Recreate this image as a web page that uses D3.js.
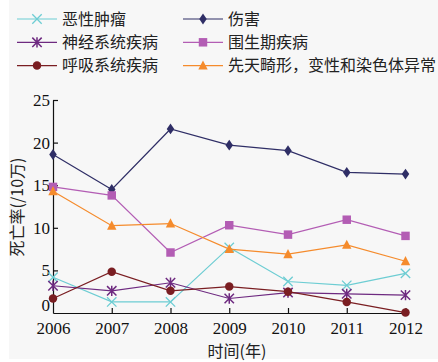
<!DOCTYPE html>
<html>
<head>
<meta charset="utf-8">
<script src="https://cdn.jsdelivr.net/npm/d3@7"></script>
<style>
  body { margin: 0; background: #fff; }
  text { font-family: "Liberation Serif", serif; }
  .cjk { font-family: "Noto Sans CJK SC", sans-serif; }
</style>
</head>
<body>
<svg id="chart" width="438" height="362"></svg>
<script>
// data
const years = [2006, 2007, 2008, 2009, 2010, 2011, 2012];
const tumor   = [4.2, 1.3, 1.3, 7.7, 3.7, 3.25, 4.65];
const injury  = [18.6, 14.5, 21.6, 19.7, 19.05, 16.5, 16.3];
const nervous = [3.2, 2.6, 3.55, 1.7, 2.4, 2.25, 2.1];
const perinatal = [14.8, 13.8, 7.1, 10.3, 9.2, 10.95, 9.05];
const respiratory = [1.7, 4.85, 2.6, 3.1, 2.5, 1.3, 0.05];
const congenital = [14.3, 10.25, 10.5, 7.5, 6.9, 8.0, 6.07];
const yTicks = [0, 5, 10, 15, 20, 25];

const series = [
  {name: "恶性肿瘤", values: tumor, color: "#6dcdd3", mark: "cross"},
  {name: "伤害", values: injury, color: "#2f2e66", mark: "diamond"},
  {name: "神经系统疾病", values: nervous, color: "#6e2a80", mark: "asterisk"},
  {name: "围生期疾病", values: perinatal, color: "#b35db4", mark: "square"},
  {name: "呼吸系统疾病", values: respiratory, color: "#7a1e22", mark: "circle"},
  {name: "先天畸形，变性和染色体异常", values: congenital, color: "#f58b2c", mark: "triangle"}
];

const svg = d3.select("#chart");
svg.append("rect").attr("x", 9).attr("y", 0).attr("width", 429).attr("height", 359)
    .attr("fill", "#f7f7f7");

const x = d3.scalePoint().domain(years).range([53, 405.5]);
const y = d3.scaleLinear().domain([0, 25]).range([313, 100]);

// axes (ticks point inward)
const gx = svg.append("g").attr("transform", `translate(0,${y(0)})`)
    .call(d3.axisBottom(x).tickSizeInner(-5).tickSizeOuter(0).tickPadding(9));
const gy = svg.append("g").attr("transform", `translate(${x(2006)},0)`)
    .call(d3.axisLeft(y).tickValues(yTicks).tickSizeInner(-5).tickSizeOuter(0).tickPadding(3));
[gx, gy].forEach(g => {
  g.attr("font-family", "'Liberation Serif', serif").attr("font-size", 17);
  g.select(".domain").attr("stroke", "#111").attr("stroke-width", 1.2);
  g.selectAll(".tick line").attr("stroke", "#111").attr("stroke-width", 1.2);
  g.selectAll(".tick text").attr("fill", "#111");
});
gy.selectAll(".tick").filter(d => d === 0).select("line").remove();
// the zero label sits a little above the corner so it clears 2006
gy.selectAll(".tick").filter(d => d === 0).select("text").attr("y", -8);
gx.selectAll(".tick").filter(d => d === 2006).select("line").remove();

// marker drawing
function drawMark(g, type, color, s) {
  if (type === "cross") {
    g.append("path").attr("d", `M${-s},${-s}L${s},${s}M${-s},${s}L${s},${-s}`)
        .attr("stroke", color).attr("stroke-width", 1.3).attr("fill", "none");
  } else if (type === "asterisk") {
    g.append("path").attr("d", `M${-s},${-s}L${s},${s}M${-s},${s}L${s},${-s}M0,${-s*1.1}L0,${s*1.1}`)
        .attr("stroke", color).attr("stroke-width", 1.5).attr("fill", "none");
  } else if (type === "diamond") {
    g.append("path").attr("d", `M0,${-s*1.15}L${s*0.8},0L0,${s*1.15}L${-s*0.8},0Z`).attr("fill", color);
  } else if (type === "square") {
    g.append("rect").attr("x", -s*0.9).attr("y", -s*0.9)
        .attr("width", s*1.8).attr("height", s*1.8).attr("fill", color);
  } else if (type === "circle") {
    g.append("circle").attr("r", s*0.9).attr("fill", color);
  } else if (type === "triangle") {
    g.append("path").attr("d", `M0,${-s*1.1}L${s},${s*0.85}L${-s},${s*0.85}Z`).attr("fill", color);
  }
}

const line = d3.line().x((d, i) => x(years[i])).y(d => y(d));
const plot = svg.append("g");
series.forEach(s => {
  const g = plot.append("g");
  g.append("path").datum(s.values).attr("d", line)
      .attr("fill", "none").attr("stroke", s.color).attr("stroke-width", 1.2);
  s.values.forEach((v, i) => {
    const m = g.append("g").attr("transform", `translate(${x(years[i])},${y(v)})`);
    drawMark(m, s.mark, s.color, 4.7);
  });
});

// legend
const leg = svg.append("g");
series.forEach((s, i) => {
  const col = i % 2, row = Math.floor(i / 2);
  const lx = col === 0 ? 17 : 183, ly = 19 + row * 23.3;
  const g = leg.append("g").attr("transform", `translate(${lx},${ly})`);
  g.append("line").attr("x1", 0).attr("x2", 40).attr("stroke", s.color).attr("stroke-width", 1.2);
  const m = g.append("g").attr("transform", "translate(20,0)");
  drawMark(m, s.mark, s.color, 4.7);
  g.append("text").attr("class", "cjk").attr("x", 45).attr("y", 0).attr("dy", "0.35em")
      .style("font-size", "16px").attr("fill", "#222").text(s.name);
});

// axis titles
svg.append("text").attr("class", "cjk")
    .attr("transform", `translate(17,207) rotate(-90)`)
    .attr("text-anchor", "middle").attr("dy", "0.35em")
    .style("font-size", "16px").attr("fill", "#222").text("死亡率(/10万)");
svg.append("text").attr("class", "cjk")
    .attr("x", 237).attr("y", 357).attr("text-anchor", "middle")
    .style("font-size", "16px").attr("fill", "#222").text("时间(年)");
</script>
</body>
</html>
